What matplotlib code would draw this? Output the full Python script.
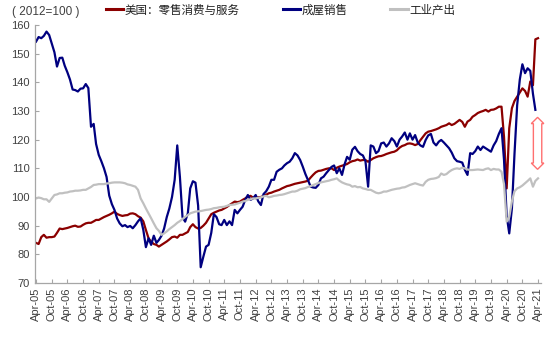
import numpy as np
import pandas as pd
import matplotlib
matplotlib.use("Agg")
import matplotlib.pyplot as plt
import matplotlib.dates as mdates

plt.rcParams['font.family'] = ['Liberation Sans', 'Noto Sans CJK SC', 'DejaVu Sans']

# monthly index, 2012=100, starting Apr-2005
retail = [
    84.0, 83.6, 86.0, 86.8, 85.8, 86.0, 86.0, 86.2, 87.5, 89.0, 88.8, 89.0,
    89.2, 89.5, 89.8, 90.0, 89.6, 89.7, 90.3, 90.8, 91.0, 91.0, 91.5, 92.0,
    92.0, 92.5, 93.0, 93.4, 93.8, 94.3, 94.9, 94.1, 93.7, 93.4, 93.6, 93.7,
    94.2, 94.3, 94.0, 93.3, 92.8, 91.5, 88.5, 85.6, 84.4, 83.6, 83.3, 82.7,
    83.3, 83.9, 84.5, 85.2, 86.0, 86.2, 85.8, 86.8, 86.8, 87.3, 87.8, 89.5,
    90.5, 89.5, 89.0, 89.2, 90.0, 91.0, 92.5, 94.0, 94.5, 94.9, 95.3, 95.5,
    96.0, 96.5, 97.2, 97.8, 98.4, 98.2, 98.4, 99.0, 99.5, 100.1, 100.4, 99.8,
    99.6, 99.9, 100.0, 100.4, 100.8, 101.3, 101.5, 101.9, 102.2, 102.5, 103.0, 103.4,
    103.8, 104.0, 104.3, 104.6, 104.8, 105.0, 105.2, 105.4, 105.7, 106.8, 107.8, 108.6,
    109.1, 109.2, 109.5, 109.8, 110.0, 110.0, 109.4, 110.2, 110.6, 110.9, 111.2, 111.5,
    112.1, 112.5, 112.7, 113.1, 112.7, 112.9, 112.9, 112.3, 112.9, 113.5, 113.9, 114.2,
    114.3, 114.6, 115.0, 115.3, 115.6, 115.8, 116.3, 117.2, 117.8, 118.1, 118.6, 118.7,
    118.5, 118.1, 118.5, 119.8, 121.0, 122.2, 122.8, 123.0, 123.3, 123.6, 124.0, 124.5,
    124.8, 125.1, 125.7, 125.1, 125.5, 126.2, 126.9, 126.2, 124.5, 126.3, 126.9, 128.0,
    128.6, 129.3, 129.7, 130.0, 130.4, 129.8, 130.4, 130.5, 130.9, 131.5, 131.5, 121.0,
    103.0, 124.0, 131.0, 133.5, 135.0, 136.5, 137.9, 137.0, 135.0, 140.3, 139.0, 155.0,
    155.4,
]

home_sales = [
    154.2, 155.8, 155.4, 156.2, 157.7, 156.5, 153.6, 150.5, 145.5, 148.5, 148.6, 145.8,
    143.5, 141.0, 137.5, 137.3, 136.8, 137.8, 137.9, 139.4, 138.0, 124.5, 125.5, 118.5,
    114.7, 112.5, 110.0, 107.0, 100.5, 97.5, 95.5, 92.5, 90.8, 89.8, 90.2, 89.5,
    89.9, 89.1, 90.2, 91.5, 92.6, 88.5, 82.5, 85.6, 83.3, 86.5, 84.0, 85.0,
    86.5, 89.0, 93.0, 96.0, 100.0, 106.0, 118.0, 107.0, 93.0, 91.4, 94.3, 103.0,
    105.5, 105.0, 97.0, 75.5, 79.2, 82.7, 83.3, 87.5, 94.0, 93.0, 90.5, 90.2,
    92.0, 90.2, 91.5, 90.2, 95.5, 94.3, 95.5, 96.6, 99.0, 100.7, 99.0, 99.5,
    100.7, 98.5, 97.2, 101.0, 102.0, 103.6, 106.0, 106.0, 108.8, 109.5, 110.0, 111.0,
    111.8, 112.3, 113.5, 115.3, 114.5, 112.9, 110.6, 108.0, 105.9, 103.6, 103.3, 103.2,
    104.2, 106.5, 107.1, 108.3, 109.4, 110.5, 111.0, 108.3, 110.0, 107.7, 111.5, 114.0,
    113.0, 116.5, 117.5, 116.0, 115.0, 114.5, 112.5, 103.6, 118.0, 117.6, 115.3, 116.0,
    118.7, 119.0, 117.6, 118.7, 120.5, 119.5, 117.6, 120.0, 121.1, 122.5, 120.0, 122.2,
    120.0, 121.6, 119.0, 118.0, 117.5, 119.9, 121.5, 122.0, 119.0, 118.0, 119.3, 119.9,
    119.0, 118.0, 117.0, 115.5, 113.5, 112.5, 112.3, 112.0, 109.5, 107.7, 115.3, 115.0,
    116.0, 117.6, 116.4, 117.6, 117.0, 116.4, 115.8, 118.0, 119.5, 122.0, 124.0, 113.0,
    93.5, 87.3, 96.0, 115.0, 132.0, 141.0, 146.3, 143.2, 144.9, 144.0, 136.0, 130.4,
]

industrial = [
    99.5, 99.8, 99.6, 99.2, 99.2, 98.3, 99.5, 100.7, 100.9, 101.3, 101.3, 101.5,
    101.6, 101.9, 102.0, 102.2, 102.2, 102.3, 102.5, 102.5, 103.0, 103.5, 104.2, 104.3,
    104.5, 104.5, 104.5, 104.7, 104.8, 105.0, 105.1, 105.1, 105.1, 105.0, 104.8, 104.4,
    104.2, 103.9, 103.6, 102.5, 99.5, 97.8, 96.0, 94.3, 92.6, 90.8, 89.1, 88.2,
    86.8, 87.3, 88.0, 88.8, 89.5, 90.2, 91.0, 91.6, 92.3, 93.1, 93.7, 94.3,
    94.6, 94.9, 95.0, 95.1, 95.3, 95.5, 95.6, 95.8, 96.1, 96.2, 96.4, 96.5,
    96.6, 96.9, 97.2, 97.3, 97.4, 97.7, 98.0, 98.4, 98.6, 99.0, 99.2, 99.5,
    99.5, 99.7, 99.9, 100.2, 100.4, 99.9, 100.1, 100.4, 100.5, 100.7, 100.8, 101.0,
    101.3, 101.6, 101.9, 101.9, 102.2, 102.7, 102.9, 103.1, 103.5, 103.8, 104.2, 104.5,
    104.9, 105.1, 105.3, 105.5, 105.7, 106.0, 106.2, 106.5, 105.7, 105.1, 104.7, 104.4,
    104.2, 103.6, 103.8, 103.4, 103.5, 103.0, 102.8, 102.5, 102.5, 102.0, 101.5, 101.3,
    101.5, 101.9, 101.9, 102.2, 102.5, 102.7, 102.9, 103.0, 103.3, 103.4, 103.8, 104.2,
    104.5, 104.8, 104.5, 104.2, 104.0, 105.3, 106.0, 106.3, 106.4, 106.6, 107.0, 108.2,
    107.7, 108.0, 108.8, 109.4, 109.8, 110.0, 109.8, 110.2, 110.0, 109.6, 109.4, 109.4,
    109.5, 109.6, 109.5, 109.4, 109.8, 110.0, 109.4, 109.8, 109.6, 109.6, 108.8, 104.5,
    91.4, 93.0, 98.5, 102.0, 103.0, 103.4, 104.0, 104.8, 105.6, 106.5, 103.6, 105.6,
    106.5,
]

labels = ['美国：零售消费与服务', '成屋销售', '工业产出']
colors = ['#8b0000', '#000080', '#c0c0c0']

start = '2005-04-01'
series = [retail, home_sales, industrial]

fig = plt.figure(figsize=(5.5, 3.37), dpi=100)
ax = fig.add_axes([35 / 550, 1 - 283 / 337, 505.6 / 550, 258 / 337])

for vals, lab, c in zip(series, labels, colors):
    dates = pd.date_range(start, periods=len(vals), freq='MS')
    ax.plot(dates, vals, color=c, lw=1.6, label=lab, solid_joinstyle='round')

ax.set_ylim(70, 160)
ax.set_yticks(np.arange(70, 161, 10))
ax.set_xlim(pd.Timestamp('2005-03-20'), pd.Timestamp('2021-05-01'))
ax.xaxis.set_major_locator(mdates.MonthLocator(bymonth=[4, 10]))
ax.xaxis.set_major_formatter(mdates.DateFormatter('%b-%y'))

for s in ['top', 'right']:
    ax.spines[s].set_visible(False)
for s in ['left', 'bottom']:
    ax.spines[s].set_color('#a6a6a6')
    ax.spines[s].set_linewidth(0.9)
ax.tick_params(axis='both', direction='in', length=3, color='#a6a6a6',
               labelsize=8, labelcolor='#404040')
ax.tick_params(axis='x', rotation=90, pad=3)
ax.tick_params(axis='y', pad=4)

fig.text(12 / 550, 1 - 12 / 337, '( 2012=100 )', fontsize=8.5, color='#404040',
         va='center', ha='left')

leg = fig.legend(loc='center left', bbox_to_anchor=(106 / 550, 1 - 10 / 337), ncol=3,
                 frameon=False, handlelength=1.5, handletextpad=0.15,
                 columnspacing=3.7, borderpad=0, borderaxespad=0,
                 prop={'family': ['Noto Sans CJK SC', 'DejaVu Sans'], 'size': 8.3})
for t in leg.get_texts():
    t.set_color('#202020')
for h in leg.get_lines():
    h.set_linewidth(2.2)

# two-way arrow marking the gap on the right
ax.text(0.994, 0.539, 'x' * 12, transform=ax.transAxes, rotation=90, fontsize=5,
        color='none', ha='center', va='center',
        bbox=dict(boxstyle='darrow,pad=0.1', fc='white', ec='#ff7070', lw=1.0))

fig.savefig('out.png', dpi=100)
